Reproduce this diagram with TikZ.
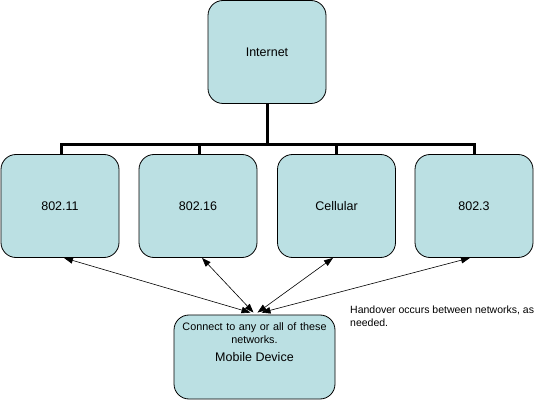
\documentclass[tikz,border=0pt]{standalone}
\usepackage{fontspec}
\setmainfont{Liberation Sans}
\usetikzlibrary{positioning,arrows.meta,calc}
\definecolor{boxfill}{RGB}{187,224,227}

\begin{document}
\begin{tikzpicture}[x=1pt,y=-1pt]
\tikzstyle{net} = [draw,fill=boxfill,shape=rectangle,rounded corners=15pt,line width=0.8pt,minimum width=118pt,minimum height=103pt,font=\fontsize{12.5}{15}\selectfont]
\tikzstyle{dev} = [net,minimum width=161pt,minimum height=84pt]
\tikzstyle{note} = [font=\fontsize{10.5}{13}\selectfont,inner sep=0pt]
\tikzstyle{bus} = [line width=3pt]
\tikzstyle{link} = [{Triangle[length=9pt,width=6.5pt]}-{Triangle[length=9pt,width=6.5pt]},line width=0.6pt]
\useasboundingbox (0,0) rectangle (539,401);
\node[net] (inet) at (267,52) {Internet} ;
\node[net] (w11) at (60,206) {802.11} ;
\node[net] (w16) at (198,206) {802.16} ;
\node[net] (cell) at (336.5,206) {Cellular} ;
\node[net] (eth) at (474,206) {802.3} ;
\node[dev] (mob) at (254.5,357) {Mobile Device} ;
\node[note,font=\fontsize{10.8}{13}\selectfont,text width=156pt,align=center] (mobnote) at (254.5,333.5) {Connect to any or all of these\\networks.} ;
\node[note,anchor=north west,align=left] (hand) at (350,306) {Handover occurs between networks, as\\needed.} ;
% tree to the networks
\coordinate (bar) at (267,145);
\draw[bus] (inet.south) -- (bar);
\draw[bus] ([xshift=1pt]w11.north) -- ([xshift=1pt]w11.north |- bar) -- (eth.north |- bar) -- (eth.north);
\draw[bus] ([xshift=1pt]w16.north) -- ([xshift=1pt]w16.north |- bar);
\draw[bus] (cell.north) -- (cell.north |- bar);
% device links
\draw[link] ([xshift=-4pt,yshift=2pt]mob.north) -- ([xshift=4pt]w11.south);
\draw[link] ([xshift=-1pt,yshift=2pt]mob.north) -- ([xshift=4pt]w16.south);
\draw[link] ([xshift=3pt,yshift=2pt]mob.north) -- ([xshift=-3.5pt]cell.south);
\draw[link] ([xshift=7pt,yshift=2pt]mob.north) -- ([xshift=-4pt]eth.south);
\end{tikzpicture}
\end{document}
